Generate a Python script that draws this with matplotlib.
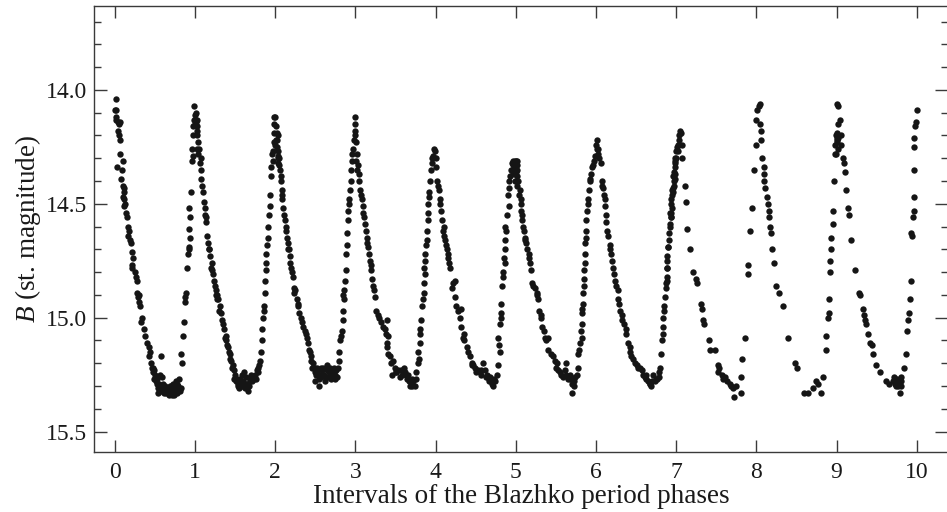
import matplotlib
matplotlib.use("Agg")
import matplotlib.pyplot as plt
from matplotlib.ticker import MultipleLocator, FormatStrFormatter

plt.rcParams['font.family'] = ['Liberation Serif', 'DejaVu Serif']
plt.rcParams['mathtext.fontset'] = 'custom'
plt.rcParams['mathtext.it'] = 'Liberation Serif:italic'
plt.rcParams['mathtext.rm'] = 'Liberation Serif'

# ---- data: phase (x) and B magnitude per Blazhko interval ----
x0 = [0.01, 0.0, 0.02, 0.01, 0.04, 0.06, 0.04, 0.05, 0.07, 0.10, 0.03, 0.08, 0.10, 0.11, 0.10, 0.12, 0.12, 0.14,
      0.15, 0.17, 0.19, 0.20, 0.21, 0.21, 0.22, 0.28, 0.28, 0.29, 0.30, 0.31, 0.33, 0.36, 0.40, 0.42, 0.43, 0.45,
      0.47, 0.48, 0.50, 0.51, 0.52, 0.54, 0.56, 0.54, 0.58, 0.59, 0.60, 0.62, 0.64, 0.67, 0.69, 0.69, 0.72, 0.74,
      0.76, 0.78, 0.80, 0.81, 0.83, 0.82, 0.84, 0.85, 0.86, 0.87, 0.89, 0.90, 0.91, 0.93, 0.94, 0.93, 0.94, 0.93,
      0.96, 0.97, 0.96, 0.98, 0.99, 0.99, 0.46, 0.49, 0.55, 0.57, 0.63, 0.66, 0.70, 0.73, 0.77, 0.79,
      0.02, 0.05, 0.06, 0.09, 0.11, 0.13, 0.16, 0.18, 0.23, 0.25, 0.27, 0.30, 0.34, 0.38, 0.44, 0.49, 0.53, 0.57,
      0.61, 0.65, 0.68, 0.71, 0.75, 0.78, 0.88, 0.92, 0.95, 0.98]
B0 = [14.04, 14.09, 14.09, 14.13, 14.14, 14.14, 14.18, 14.20, 14.28, 14.31, 14.34, 14.39, 14.42, 14.43, 14.47,
      14.48, 14.51, 14.54, 14.56, 14.64, 14.66, 14.67, 14.71, 14.78, 14.77, 14.84, 14.89, 14.91, 14.93, 14.95,
      15.02, 15.05, 15.11, 15.13, 15.17, 15.20, 15.22, 15.24, 15.25, 15.28, 15.29, 15.31, 15.25, 15.33, 15.17,
      15.26, 15.29, 15.31, 15.33, 15.34, 15.30, 15.33, 15.32, 15.34, 15.28, 15.31, 15.27, 15.32, 15.31, 15.16,
      15.20, 15.08, 15.02, 14.91, 14.89, 14.78, 14.72, 14.69, 14.65, 14.61, 14.56, 14.52, 14.31, 14.29, 14.26,
      14.16, 14.13, 14.07, 15.22, 15.27, 15.29, 15.31, 15.30, 15.32, 15.30, 15.29, 15.33, 15.30,
      14.12, 14.15, 14.22, 14.35, 14.45, 14.50, 14.60, 14.62, 14.74, 14.80, 14.82, 14.90, 15.00, 15.08, 15.15,
      15.23, 15.27, 15.32, 15.33, 15.32, 15.31, 15.34, 15.31, 15.29, 14.93, 14.70, 14.45, 14.20]

x1 = [1.00, 1.01, 1.02, 1.00, 1.02, 1.04, 1.05, 1.02, 1.06, 1.07, 1.08, 1.10, 1.12, 1.14, 1.14, 1.15, 1.16,
      1.19, 1.21, 1.21, 1.23, 1.25, 1.26, 1.27, 1.29, 1.30, 1.33, 1.34, 1.36, 1.37, 1.39, 1.41, 1.43, 1.44, 1.46,
      1.48, 1.50, 1.51, 1.53, 1.55, 1.56, 1.58, 1.60, 1.62, 1.64, 1.66, 1.68, 1.70, 1.73, 1.75, 1.77, 1.79, 1.81,
      1.82, 1.83, 1.84, 1.85, 1.86, 1.87, 1.87, 1.88, 1.89, 1.90, 1.91, 1.91, 1.93, 1.94, 1.95, 1.95, 1.97, 1.97,
      1.98, 1.98, 1.99, 1.99, 1.01, 1.03, 1.09, 1.18, 1.28, 1.35, 1.45, 1.52, 1.57, 1.61, 1.65, 1.69, 1.72,
      1.03, 1.04, 1.07, 1.11, 1.13, 1.17, 1.20, 1.24, 1.26, 1.31, 1.38, 1.40, 1.42, 1.47, 1.49, 1.54, 1.59, 1.63,
      1.67, 1.71, 1.74, 1.76, 1.78, 1.80, 1.86, 1.89, 1.92, 1.96]
B1 = [14.11, 14.10, 14.13, 14.15, 14.16, 14.23, 14.26, 14.26, 14.32, 14.35, 14.39, 14.45, 14.52, 14.56, 14.58,
      14.64, 14.67, 14.73, 14.76, 14.79, 14.81, 14.86, 14.88, 14.92, 14.92, 14.97, 14.98, 15.01, 15.05, 15.09,
      15.10, 15.13, 15.16, 15.18, 15.22, 15.23, 15.25, 15.28, 15.30, 15.31, 15.27, 15.25, 15.28, 15.31, 15.26,
      15.32, 15.28, 15.25, 15.27, 15.25, 15.23, 15.22, 15.19, 15.15, 15.10, 15.05, 15.00, 14.97, 14.89, 14.84,
      14.79, 14.72, 14.68, 14.65, 14.60, 14.51, 14.46, 14.38, 14.34, 14.31, 14.27, 14.23, 14.19, 14.15, 14.12,
      14.14, 14.20, 14.42, 14.70, 14.90, 15.03, 15.19, 15.27, 15.29, 15.24, 15.29, 15.27, 15.26,
      14.18, 14.28, 14.30, 14.49, 14.55, 14.70, 14.78, 14.84, 14.90, 14.95, 15.08, 15.12, 15.15, 15.21, 15.27,
      15.29, 15.30, 15.29, 15.30, 15.28, 15.26, 15.27, 15.24, 15.21, 14.95, 14.76, 14.55, 14.28]

x2 = [2.00, 2.01, 2.02, 2.02, 2.04, 2.05, 2.06, 2.07, 2.08, 2.09, 2.10, 2.12, 2.13, 2.15, 2.16, 2.17, 2.18,
      2.20, 2.22, 2.23, 2.24, 2.27, 2.29, 2.30, 2.33, 2.35, 2.38, 2.40, 2.41, 2.42, 2.44, 2.45, 2.47, 2.49, 2.50,
      2.52, 2.53, 2.56, 2.58, 2.59, 2.60, 2.61, 2.64, 2.66, 2.68, 2.70, 2.72, 2.74, 2.76, 2.78, 2.79, 2.80, 2.49,
      2.55, 2.81, 2.83, 2.84, 2.85, 2.86, 2.86, 2.87, 2.88, 2.88, 2.90, 2.91, 2.91, 2.92, 2.93, 2.94, 2.95, 2.96,
      2.97, 2.98, 2.99, 2.99, 2.01, 2.03, 2.04, 2.00, 2.03, 2.62, 2.65, 2.69, 2.71, 2.57,
      2.02, 2.03, 2.05, 2.07, 2.09, 2.11, 2.14, 2.16, 2.19, 2.21, 2.25, 2.28, 2.32, 2.37, 2.43, 2.46, 2.51, 2.54,
      2.57, 2.63, 2.67, 2.73, 2.75, 2.77, 2.82, 2.85, 2.89, 2.92, 2.96]
B2 = [14.12, 14.16, 14.19, 14.25, 14.29, 14.30, 14.35, 14.40, 14.44, 14.48, 14.52, 14.57, 14.60, 14.65, 14.67,
      14.70, 14.73, 14.78, 14.82, 14.87, 14.89, 14.92, 14.95, 14.98, 15.02, 15.04, 15.07, 15.09, 15.11, 15.14,
      15.17, 15.19, 15.20, 15.22, 15.24, 15.22, 15.23, 15.25, 15.23, 15.25, 15.22, 15.25, 15.23, 15.26, 15.22,
      15.25, 15.24, 15.27, 15.23, 15.22, 15.19, 15.15, 15.28, 15.30, 15.10, 15.06, 15.01, 14.97, 14.92, 14.88,
      14.84, 14.79, 14.72, 14.63, 14.57, 14.53, 14.48, 14.44, 14.40, 14.35, 14.31, 14.26, 14.22, 14.18, 14.12,
      14.22, 14.27, 14.20, 14.24, 14.32, 15.28, 15.21, 15.27, 15.23, 15.26,
      14.22, 14.30, 14.33, 14.38, 14.46, 14.55, 14.62, 14.70, 14.76, 14.80, 14.88, 14.94, 15.00, 15.06, 15.15,
      15.22, 15.25, 15.27, 15.22, 15.26, 15.24, 15.22, 15.25, 15.26, 15.08, 14.90, 14.68, 14.50, 14.28]

x3 = [3.00, 3.00, 3.01, 3.02, 3.01, 3.02, 3.05, 3.06, 3.08, 3.10, 3.12, 3.14, 3.16, 3.18, 3.20, 3.22, 3.24,
      3.26, 3.30, 3.35, 3.38, 3.40, 3.41, 3.39, 3.41, 3.40, 3.43, 3.47, 3.49, 3.46, 3.53, 3.55, 3.60, 3.62, 3.64,
      3.66, 3.68, 3.72, 3.74, 3.76, 3.78, 3.78, 3.80, 3.80, 3.82, 3.83, 3.85, 3.85, 3.87, 3.87, 3.87, 3.89, 3.89,
      3.90, 3.90, 3.91, 3.92, 3.93, 3.94, 3.95, 3.97, 3.98, 3.58, 3.70, 3.51,
      3.03, 3.04, 3.07, 3.09, 3.11, 3.13, 3.15, 3.17, 3.19, 3.21, 3.23, 3.28, 3.32, 3.37, 3.44, 3.50, 3.57, 3.63,
      3.67, 3.70, 3.75, 3.79, 3.81, 3.84, 3.86, 3.88, 3.92, 3.96]
B3 = [14.15, 14.20, 14.23, 14.28, 14.31, 14.35, 14.40, 14.44, 14.48, 14.54, 14.59, 14.65, 14.69, 14.75, 14.79,
      14.86, 14.91, 14.97, 15.00, 15.04, 15.07, 15.11, 15.16, 15.01, 15.08, 15.13, 15.17, 15.19, 15.22, 15.25,
      15.23, 15.26, 15.22, 15.24, 15.27, 15.25, 15.30, 15.28, 15.30, 15.24, 15.20, 15.15, 15.11, 15.07, 15.01,
      14.95, 14.89, 14.85, 14.81, 14.75, 14.72, 14.66, 14.62, 14.57, 14.54, 14.50, 14.47, 14.40, 14.35, 14.32,
      14.29, 14.26, 15.25, 15.27, 15.24,
      14.33, 14.37, 14.46, 14.51, 14.56, 14.62, 14.67, 14.72, 14.77, 14.83, 14.88, 14.99, 15.02, 15.05, 15.20,
      15.24, 15.23, 15.25, 15.28, 15.30, 15.27, 15.18, 15.05, 14.92, 14.78, 14.68, 14.45, 14.30]

x4 = [3.99, 4.01, 4.02, 4.04, 4.05, 4.07, 4.08, 4.09, 4.12, 4.14, 4.16, 4.18, 4.20, 4.24, 4.24, 4.26, 4.28,
      4.32, 4.32, 4.34, 4.36, 4.39, 4.43, 4.45, 4.47, 4.49, 4.53, 4.57, 4.59, 4.61, 4.64, 4.66, 4.70, 4.74, 4.76,
      4.78, 4.80, 4.78, 4.80, 4.82, 4.82, 4.84, 4.84, 4.86, 4.86, 4.86, 4.88, 4.91, 4.90, 4.91, 4.93, 4.94, 4.95,
      4.97, 4.98, 4.99, 5.00, 4.98, 4.99, 4.96, 4.55, 4.68, 4.72,
      4.00, 4.03, 4.06, 4.10, 4.11, 4.13, 4.15, 4.17, 4.22, 4.30, 4.35, 4.41, 4.46, 4.51, 4.56, 4.63, 4.67, 4.73,
      4.79, 4.81, 4.83, 4.85, 4.87, 4.89, 4.92, 4.96, 5.00, 4.99]
B4 = [14.27, 14.34, 14.40, 14.44, 14.48, 14.53, 14.57, 14.62, 14.66, 14.70, 14.74, 14.78, 14.87, 14.84, 14.91,
      14.95, 14.97, 14.96, 15.04, 15.09, 15.10, 15.13, 15.17, 15.20, 15.21, 15.22, 15.23, 15.25, 15.20, 15.23,
      15.25, 15.27, 15.29, 15.28, 15.25, 15.21, 15.15, 15.09, 15.03, 14.98, 14.94, 14.82, 14.80, 14.76, 14.70,
      14.66, 14.62, 14.51, 14.46, 14.43, 14.38, 14.35, 14.32, 14.31, 14.32, 14.31, 14.33, 14.37, 14.40, 14.36,
      15.24, 15.26, 15.30,
      14.30, 14.42, 14.50, 14.60, 14.64, 14.68, 14.72, 14.76, 14.85, 15.00, 15.07, 15.15, 15.21, 15.24, 15.23,
      15.26, 15.28, 15.27, 15.12, 15.00, 14.86, 14.74, 14.60, 14.55, 14.40, 14.33, 14.31, 14.34]

x5 = [5.01, 5.02, 5.00, 5.02, 5.01, 5.03, 5.05, 5.06, 5.07, 5.08, 5.09, 5.11, 5.13, 5.16, 5.18, 5.19, 5.20,
      5.24, 5.26, 5.28, 5.29, 5.32, 5.33, 5.36, 5.40, 5.40, 5.47, 5.49, 5.51, 5.53, 5.57, 5.63, 5.61, 5.67, 5.70,
      5.70, 5.74, 5.77, 5.78, 5.80, 5.82, 5.82, 5.83, 5.84, 5.84, 5.85, 5.85, 5.86, 5.86, 5.87, 5.88, 5.89, 5.90,
      5.91, 5.92, 5.94, 5.95, 5.97, 5.99, 6.01, 6.01, 5.59, 5.65, 5.72,
      5.02, 5.04, 5.06, 5.08, 5.10, 5.12, 5.14, 5.17, 5.22, 5.27, 5.31, 5.35, 5.38, 5.44, 5.50, 5.55, 5.62, 5.68,
      5.73, 5.76, 5.79, 5.81, 5.83, 5.85, 5.86, 5.88, 5.90, 5.93, 5.96, 6.00]
B5 = [14.31, 14.33, 14.36, 14.38, 14.35, 14.40, 14.44, 14.48, 14.53, 14.57, 14.60, 14.65, 14.67, 14.72, 14.76,
      14.79, 14.85, 14.87, 14.89, 14.92, 14.97, 15.00, 15.04, 15.09, 15.09, 15.14, 15.17, 15.19, 15.20, 15.23,
      15.25, 15.20, 15.23, 15.25, 15.29, 15.33, 15.26, 15.22, 15.16, 15.11, 15.09, 15.03, 14.98, 14.94, 14.89,
      14.83, 14.79, 14.72, 14.67, 14.62, 14.57, 14.53, 14.48, 14.44, 14.40, 14.37, 14.34, 14.31, 14.29, 14.26,
      14.22, 15.26, 15.27, 15.28,
      14.42, 14.46, 14.50, 14.55, 14.62, 14.66, 14.70, 14.74, 14.86, 14.90, 14.99, 15.06, 15.10, 15.16, 15.22,
      15.24, 15.25, 15.27, 15.30, 15.25, 15.14, 15.06, 14.96, 14.86, 14.76, 14.65, 14.50, 14.39, 14.33, 14.24]

x6 = [6.02, 6.06, 6.07, 6.09, 6.10, 6.11, 6.12, 6.14, 6.17, 6.19, 6.21, 6.23, 6.24, 6.27, 6.28, 6.30, 6.32,
      6.35, 6.38, 6.40, 6.43, 6.44, 6.49, 6.53, 6.57, 6.61, 6.65, 6.69, 6.71, 6.73, 6.78, 6.80, 6.81, 6.82, 6.83,
      6.84, 6.85, 6.86, 6.87, 6.88, 6.88, 6.89, 6.90, 6.91, 6.92, 6.93, 6.94, 6.95, 6.96, 6.98, 6.98, 6.96, 6.94,
      6.92, 6.92, 6.90, 6.88, 6.88, 6.63, 6.67, 6.75,
      6.03, 6.04, 6.08, 6.11, 6.13, 6.15, 6.18, 6.20, 6.25, 6.29, 6.33, 6.37, 6.42, 6.46, 6.51, 6.55, 6.59, 6.63,
      6.67, 6.70, 6.76, 6.79, 6.83, 6.85, 6.87, 6.89, 6.91, 6.93, 6.95, 6.97, 6.99, 6.96, 6.97, 6.99]
B6 = [14.26, 14.32, 14.40, 14.43, 14.46, 14.51, 14.55, 14.62, 14.68, 14.72, 14.78, 14.81, 14.84, 14.88, 14.92,
      14.97, 14.99, 15.03, 15.07, 15.11, 15.15, 15.17, 15.20, 15.22, 15.23, 15.26, 15.28, 15.30, 15.25, 15.28,
      15.26, 15.22, 15.16, 15.10, 15.04, 15.00, 14.95, 14.91, 14.87, 14.82, 14.78, 14.73, 14.69, 14.63, 14.59,
      14.54, 14.50, 14.44, 14.38, 14.37, 14.32, 14.43, 14.48, 14.54, 14.60, 14.69, 14.78, 14.84, 15.27, 15.29,
      15.27,
      14.28, 14.30, 14.42, 14.48, 14.58, 14.64, 14.70, 14.75, 14.86, 14.94, 15.01, 15.05, 15.13, 15.18, 15.21,
      15.22, 15.25, 15.25, 15.29, 15.28, 15.27, 15.24, 15.07, 14.97, 14.85, 14.75, 14.66, 14.56, 14.46, 14.40,
      14.34, 14.45, 14.36, 14.30]

x7 = [7.05, 7.02, 7.07, 7.02, 7.07, 6.99, 7.11, 7.12, 7.14, 7.17, 7.21, 7.25, 7.26, 7.31, 7.32, 7.34, 7.35,
      7.41, 7.42, 7.49, 7.52, 7.53, 7.52, 7.57, 7.59, 7.61, 7.63, 7.67, 7.69, 7.71, 7.72, 7.75, 7.81, 7.81, 7.82,
      7.86, 7.89, 7.90, 7.92, 7.95, 7.97, 7.99, 8.00, 8.01,
      7.00, 7.01, 7.03, 7.04, 7.06, 7.00, 6.98, 6.97, 6.95, 6.94]
B7 = [14.18, 14.24, 14.24, 14.27, 14.30, 14.31, 14.42, 14.49, 14.61, 14.70, 14.80, 14.83, 14.85, 14.94, 14.96,
      15.01, 15.03, 15.10, 15.14, 15.14, 15.21, 15.22, 15.24, 15.25, 15.27, 15.26, 15.28, 15.29, 15.30, 15.31,
      15.35, 15.30, 15.33, 15.26, 15.18, 15.09, 14.81, 14.77, 14.62, 14.52, 14.35, 14.24, 14.13, 14.09,
      14.27, 14.25, 14.20, 14.22, 14.19, 14.30, 14.39, 14.42, 14.52, 14.56]

x8 = [8.03, 8.04, 8.04, 8.06, 8.06, 8.07, 8.10, 8.09, 8.10, 8.11, 8.13, 8.15, 8.16, 8.16, 8.17, 8.18, 8.20,
      8.22, 8.25, 8.28, 8.33, 8.40, 8.48, 8.51, 8.60, 8.65, 8.71, 8.74, 8.77, 8.80, 8.83, 8.87, 8.87, 8.89, 8.90,
      8.90, 8.92, 8.92, 8.93, 8.93, 8.95, 8.96, 8.97, 8.99, 8.98, 9.00, 9.01, 9.02, 9.01, 9.02, 8.99, 9.00, 9.01,
      9.02, 8.98, 9.02]
B8 = [14.07, 14.06, 14.15, 14.18, 14.22, 14.30, 14.34, 14.37, 14.40, 14.43, 14.47, 14.50, 14.53, 14.56, 14.60,
      14.63, 14.70, 14.76, 14.86, 14.89, 14.95, 15.09, 15.20, 15.22, 15.33, 15.33, 15.31, 15.28, 15.29, 15.33,
      15.26, 15.14, 15.08, 15.00, 14.98, 14.92, 14.80, 14.75, 14.70, 14.65, 14.59, 14.53, 14.40, 14.28, 14.24,
      14.21, 14.19, 14.15, 14.06, 14.07, 14.20, 14.22, 14.23, 14.21, 14.28, 14.26]

x9 = [9.04, 9.05, 9.06, 9.08, 9.09, 9.10, 9.12, 9.14, 9.15, 9.18, 9.23, 9.28, 9.29, 9.33, 9.34, 9.35, 9.37,
      9.39, 9.42, 9.44, 9.46, 9.49, 9.54, 9.62, 9.66, 9.71, 9.72, 9.75, 9.77, 9.79, 9.81, 9.84, 9.86, 9.88, 9.89,
      9.90, 9.91, 9.93, 9.93, 9.94, 9.95, 9.96, 9.97, 9.96, 9.97, 9.97, 9.98, 9.99, 10.00, 9.73, 9.76, 9.78,
      9.80, 9.74, 9.80]
B9 = [14.13, 14.20, 14.24, 14.30, 14.32, 14.36, 14.44, 14.52, 14.55, 14.66, 14.79, 14.89, 14.90, 14.96, 14.99,
      15.01, 15.03, 15.07, 15.11, 15.12, 15.16, 15.21, 15.24, 15.28, 15.29, 15.28, 15.26, 15.28, 15.30, 15.33,
      15.26, 15.22, 15.16, 15.06, 15.01, 14.98, 14.92, 14.84, 14.63, 14.64, 14.56, 14.53, 14.47, 14.35, 14.25,
      14.21, 14.16, 14.14, 14.09, 15.29, 15.27, 15.29, 15.30, 15.30, 15.28]

phases = [x0, x1, x2, x3, x4, x5, x6, x7, x8, x9]
mags = [B0, B1, B2, B3, B4, B5, B6, B7, B8, B9]
xticks = list(range(0, 11))
yticks = [14.0, 14.5, 15.0, 15.5]

# ---- figure ----
W, H = 947, 512
fig = plt.figure(figsize=(W / 100, H / 100), dpi=100)
ax = fig.add_axes([94 / W, (H - 452) / H, (948 - 94) / W, (452 - 5.7) / H])

for xs, ys in zip(phases, mags):
    ax.scatter(xs, ys, s=21, color='#151515', linewidths=0, zorder=3)

ax.set_xlim(-0.26, 10.39)
ax.set_ylim(15.59, 13.63)
ax.set_xticks(xticks)
ax.set_yticks(yticks)
ax.yaxis.set_minor_locator(MultipleLocator(0.1))
ax.yaxis.set_major_formatter(FormatStrFormatter('%.1f'))

spine_c = '#3a3a3a'
for sp in ax.spines.values():
    sp.set_color(spine_c)
    sp.set_linewidth(1.0)
ax.tick_params(axis='both', which='both', direction='in', top=True, right=True,
               color=spine_c, width=1.0, labelsize=17, labelcolor='#1a1a1a')
ax.tick_params(axis='x', which='major', length=8.6, pad=7)
ax.tick_params(axis='y', which='major', length=9.4, pad=5)
ax.tick_params(axis='y', which='minor', length=5.0)

ax.set_xlabel('Intervals of the Blazhko period phases', fontsize=19.5, color='#1a1a1a', labelpad=1)
ax.set_ylabel('$B$ (st. magnitude)', fontsize=19.5, color='#1a1a1a', labelpad=2)

fig.savefig('out.png', dpi=100)
